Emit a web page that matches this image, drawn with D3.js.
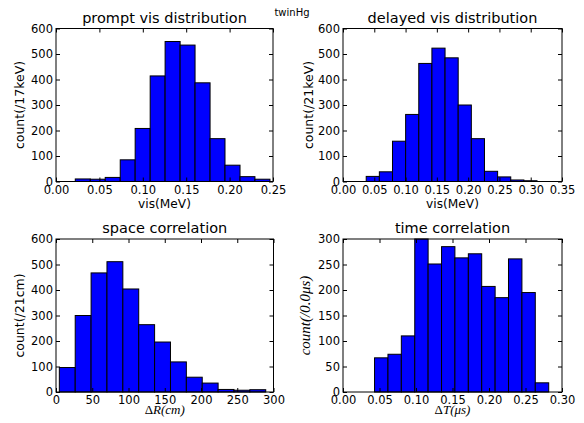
<!DOCTYPE html>
<html>
<head>
<meta charset="utf-8">
<script src="https://cdn.jsdelivr.net/npm/d3@7"></script>
<style>
  body { margin: 0; background: #fff; }
  text { font-family: "DejaVu Sans", sans-serif; fill: #000; }
  .math { font-family: "Liberation Serif", "DejaVu Serif", serif; }
</style>
</head>
<body>
<script>
var width = 584,
    height = 423;

// histogram bin edges and counts
const promptEdges = [0.0222, 0.0395, 0.0567, 0.0740, 0.0912, 0.1085, 0.1257, 0.1430, 0.1602, 0.1775, 0.1947, 0.2120, 0.2292, 0.2465];
const promptCounts = [10, 9, 16, 85, 208, 414, 549, 535, 387, 168, 64, 19, 9];

const delayedEdges = [0.0371, 0.0581, 0.0791, 0.1001, 0.1211, 0.1421, 0.1631, 0.1841, 0.2051, 0.2261, 0.2471, 0.2681, 0.2891, 0.3101];
const delayedCounts = [20, 38, 158, 263, 463, 523, 485, 300, 168, 40, 18, 6, 3];

const spaceEdges = [4.6, 26.5, 48.4, 70.3, 92.2, 114.1, 136.0, 157.9, 179.8, 201.7, 223.6, 245.5, 267.4, 289.3];
const spaceCounts = [96, 300, 467, 511, 404, 264, 196, 118, 58, 35, 10, 7, 9];

const timeEdges = [0.0432, 0.0616, 0.0799, 0.0983, 0.1166, 0.1350, 0.1533, 0.1717, 0.1900, 0.2084, 0.2267, 0.2451, 0.2634, 0.2818];
const timeCounts = [67, 74, 110, 300, 251, 285, 263, 271, 207, 185, 261, 195, 18];

// tick values
const promptXTicks = [0, 0.05, 0.10, 0.15, 0.20, 0.25];
const delayedXTicks = [0, 0.05, 0.10, 0.15, 0.20, 0.25, 0.30, 0.35];
const spaceXTicks = [0, 50, 100, 150, 200, 250, 300];
const timeXTicks = [0, 0.05, 0.10, 0.15, 0.20, 0.25, 0.30];
const countTicks600 = [0, 100, 200, 300, 400, 500, 600];
const countTicks300 = [0, 50, 100, 150, 200, 250, 300];

var svg = d3.select("body")
    .append("svg")
    .attr("width", width)
    .attr("height", height);

svg.append("text")
    .attr("x", 292)
    .attr("y", 16)
    .attr("text-anchor", "middle")
    .style("font-size", "10px")
    .text("twinHg");

function drawPanel(p) {
    var g = svg.append("g").attr("transform", "translate(" + p.left + "," + p.top + ")");
    var w = p.right - p.left, h = p.bottom - p.top;
    var x = d3.scaleLinear().domain(p.xDomain).range([0, w]);
    var y = d3.scaleLinear().domain(p.yDomain).range([h, 0]);

    var bins = p.counts.map(function(c, i) { return {x0: p.edges[i], x1: p.edges[i + 1], n: c}; });

    g.selectAll("rect.bar")
        .data(bins)
        .enter()
        .append("rect")
        .attr("class", "bar")
        .attr("x", d => x(d.x0))
        .attr("y", d => y(Math.min(d.n, p.yDomain[1])))
        .attr("width", d => x(d.x1) - x(d.x0))
        .attr("height", d => y(0) - y(Math.min(d.n, p.yDomain[1])))
        .style("fill", "#0000ff")
        .style("stroke", "#000")
        .style("stroke-width", 1);

    // inward ticks on all four sides
    var tl = 4;
    var xb = d3.axisBottom(x).tickValues(p.xTicks).tickSize(-tl).tickFormat(p.xFormat).tickPadding(4);
    var xt = d3.axisTop(x).tickValues(p.xTicks).tickSize(-tl).tickFormat("");
    var yl = d3.axisLeft(y).tickValues(p.yTicks).tickSize(-tl).tickFormat(d3.format("d")).tickPadding(3);
    var yr = d3.axisRight(y).tickValues(p.yTicks).tickSize(-tl).tickFormat("");

    [[xb, "translate(0," + h + ")"], [xt, null], [yl, null], [yr, "translate(" + w + ",0)"]].forEach(function(a) {
        var ax = g.append("g").call(a[0]);
        if (a[1]) ax.attr("transform", a[1]);
        ax.select(".domain").remove();
        ax.selectAll("line").style("stroke", "#000");
        ax.selectAll("text").style("font-size", "11.5px").style("font-family", "DejaVu Sans, sans-serif");
    });

    g.append("rect")
        .attr("x", 0).attr("y", 0)
        .attr("width", w).attr("height", h)
        .style("fill", "none")
        .style("stroke", "#000")
        .style("stroke-width", 1);

    g.append("text")
        .attr("x", w / 2)
        .attr("y", -6)
        .attr("text-anchor", "middle")
        .style("font-size", "14.5px")
        .text(p.title);

    var xl = g.append("text")
        .attr("x", w / 2)
        .attr("y", h + p.xLabelDy)
        .attr("text-anchor", "middle")
        .style("font-size", "12.2px");
    p.xLabel(xl);

    var ylab = g.append("text")
        .attr("transform", "translate(" + p.yLabelX + "," + (h / 2) + ") rotate(-90)")
        .attr("text-anchor", "middle")
        .style("font-size", "12.5px");
    p.yLabel(ylab);
}

var f2 = d3.format(".2f");

drawPanel({
    left: 56, right: 273, top: 28.5, bottom: 181.5,
    edges: promptEdges, counts: promptCounts,
    xDomain: [0, 0.25], yDomain: [0, 600],
    xTicks: promptXTicks, yTicks: countTicks600, xFormat: f2,
    title: "prompt vis distribution",
    xLabelDy: 26.5,
    xLabel: t => t.text("vis(MeV)"),
    yLabelX: -32,
    yLabel: t => t.text("count(/17keV)")
});

drawPanel({
    left: 343, right: 562, top: 28.5, bottom: 181.5,
    edges: delayedEdges, counts: delayedCounts,
    xDomain: [0, 0.35], yDomain: [0, 600],
    xTicks: delayedXTicks, yTicks: countTicks600, xFormat: f2,
    title: "delayed vis distribution",
    xLabelDy: 26.5,
    xLabel: t => t.text("vis(MeV)"),
    yLabelX: -30,
    yLabel: t => t.text("count(/21keV)")
});

drawPanel({
    left: 56, right: 273.5, top: 239, bottom: 392,
    edges: spaceEdges, counts: spaceCounts,
    xDomain: [0, 300], yDomain: [0, 600],
    xTicks: spaceXTicks, yTicks: countTicks600, xFormat: d3.format("d"),
    title: "space correlation",
    xLabelDy: 21.5,
    xLabel: function(t) {
        t.attr("class", "math").style("font-size", "13px");
        t.append("tspan").style("font-style", "normal").text("\u0394");
        t.append("tspan").style("font-style", "italic").text("R(cm)");
    },
    yLabelX: -32,
    yLabel: t => t.text("count(/21cm)")
});

drawPanel({
    left: 343, right: 562, top: 239, bottom: 392,
    edges: timeEdges, counts: timeCounts,
    xDomain: [0, 0.30], yDomain: [0, 300],
    xTicks: timeXTicks, yTicks: countTicks300, xFormat: f2,
    title: "time correlation",
    xLabelDy: 21.5,
    xLabel: function(t) {
        t.attr("class", "math").style("font-size", "13px");
        t.append("tspan").style("font-style", "normal").text("\u0394");
        t.append("tspan").style("font-style", "italic").text("T(\u03bcs)");
    },
    yLabelX: -33,
    yLabel: function(t) {
        t.attr("class", "math").style("font-size", "15px").style("font-style", "italic").text("count(/0.0\u03bcs)");
    }
});
</script>
</body>
</html>
